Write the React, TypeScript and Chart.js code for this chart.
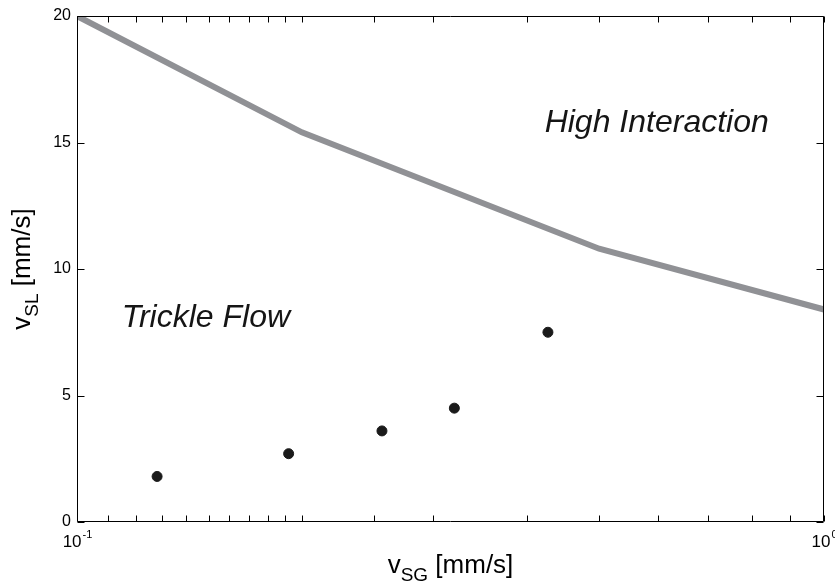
import React, { useEffect, useRef } from "react";
import { Chart, registerables } from "chart.js";

Chart.register(...registerables);

// ---- data ----
const boundaryX = [0.1, 0.2, 0.5, 1];
const boundaryY = [20, 15.4, 10.8, 8.4];
const pointX = [0.128, 0.192, 0.256, 0.32, 0.427];
const pointY = [1.8, 2.7, 3.6, 4.5, 7.5];
const yTickStep = 5;
const xLabelValues = [0.1, 1];
const xLabelBase = ["10", "10"];
const xLabelExp = ["-1", "0"];
const regionLabels = ["High Interaction", "Trickle Flow"];
const regionX = [0.4227, 0.1148];
const regionY = [15.4, 7.7];
const xTitleMain = "v";
const xTitleSub = "SG";
const xTitleRest = " [mm/s]";
const yTitleMain = "v";
const yTitleSub = "SL";
const yTitleRest = " [mm/s]";

const FONT = "'Liberation Sans', Arial, Helvetica, sans-serif";

function drawSubText(
  ctx: CanvasRenderingContext2D,
  cx: number,
  baseline: number,
  main: string,
  sub: string,
  rest: string,
  size: number,
  subSize: number,
  subDrop: number
) {
  ctx.font = `${size}px ${FONT}`;
  const w1 = ctx.measureText(main).width;
  const w3 = ctx.measureText(rest).width;
  ctx.font = `${subSize}px ${FONT}`;
  const w2 = ctx.measureText(sub).width;
  const total = w1 + w2 + w3;
  let x = cx - total / 2;
  ctx.textAlign = "left";
  ctx.textBaseline = "alphabetic";
  ctx.font = `${size}px ${FONT}`;
  ctx.fillText(main, x, baseline);
  x += w1;
  ctx.font = `${subSize}px ${FONT}`;
  ctx.fillText(sub, x, baseline + subDrop);
  x += w2;
  ctx.font = `${size}px ${FONT}`;
  ctx.fillText(rest, x, baseline);
}

const framePlugin = {
  id: "frame",
  afterDraw(chart: any) {
    const { ctx, chartArea: a, scales } = chart;
    const xs = scales.x;
    const ys = scales.y;
    const L = a.left + 0.5;
    const R = a.right - 0.5;
    const T = a.top + 0.5;
    const B = a.bottom - 0.5;
    ctx.save();
    ctx.strokeStyle = "#000";
    ctx.lineWidth = 1;
    ctx.beginPath();
    ctx.rect(L, T, R - L, B - T);
    ctx.stroke();

    // inside ticks - y
    const tl = 7;
    ctx.beginPath();
    for (const t of ys.ticks) {
      const p = Math.round(ys.getPixelForValue(t.value)) + 0.5;
      ctx.moveTo(L, p);
      ctx.lineTo(L + tl, p);
      ctx.moveTo(R, p);
      ctx.lineTo(R - tl, p);
    }
    // inside ticks - x (log minor ticks)
    for (const t of xs.ticks) {
      const p = Math.round(xs.getPixelForValue(t.value)) + 0.5;
      ctx.moveTo(p, B);
      ctx.lineTo(p, B - 6);
      ctx.moveTo(p, T);
      ctx.lineTo(p, T + 6);
    }
    ctx.stroke();

    ctx.fillStyle = "#000";
    // x tick labels with superscript
    xLabelValues.forEach((v, i) => {
      const px = xs.getPixelForValue(v);
      ctx.font = `17px ${FONT}`;
      const wb = ctx.measureText(xLabelBase[i]).width;
      ctx.font = `11px ${FONT}`;
      const we = ctx.measureText(xLabelExp[i]).width;
      const start = px - (wb + we) / 2;
      const base = a.bottom + 25;
      ctx.textAlign = "left";
      ctx.textBaseline = "alphabetic";
      ctx.font = `17px ${FONT}`;
      ctx.fillText(xLabelBase[i], start, base);
      ctx.font = `11px ${FONT}`;
      ctx.fillText(xLabelExp[i], start + wb + 1, base - 9);
    });

    // axis titles
    drawSubText(
      ctx,
      (a.left + a.right) / 2,
      a.bottom + 51,
      xTitleMain,
      xTitleSub,
      xTitleRest,
      26,
      19,
      8
    );
    ctx.save();
    ctx.translate(30, (a.top + a.bottom) / 2);
    ctx.rotate(-Math.PI / 2);
    drawSubText(ctx, 0, 0, yTitleMain, yTitleSub, yTitleRest, 26, 19, 8);
    ctx.restore();

    // region labels
    ctx.fillStyle = "#151515";
    ctx.font = `italic 32px ${FONT}`;
    ctx.textAlign = "left";
    ctx.textBaseline = "alphabetic";
    regionLabels.forEach((s, i) => {
      ctx.fillText(s, xs.getPixelForValue(regionX[i]), ys.getPixelForValue(regionY[i]));
    });
    ctx.restore();
  },
};

export default function App() {
  const ref = useRef<HTMLCanvasElement | null>(null);
  useEffect(() => {
    if (!ref.current) return;
    const chart = new Chart(ref.current, {
      type: "scatter",
      data: {
        datasets: [
          {
            label: "boundary",
            data: boundaryX.map((x, i) => ({ x, y: boundaryY[i] })),
            showLine: true,
            borderColor: "#909195",
            backgroundColor: "#909195",
            borderWidth: 6,
            pointRadius: 0,
            pointHoverRadius: 0,
            clip: 0,
            order: 2,
          } as any,
          {
            label: "data",
            data: pointX.map((x, i) => ({ x, y: pointY[i] })),
            showLine: false,
            backgroundColor: "#1a1a1a",
            borderColor: "#1a1a1a",
            borderWidth: 1,
            pointRadius: 5,
            order: 1,
          } as any,
        ],
      },
      options: {
        animation: false,
        responsive: false,
        devicePixelRatio: 1,
        layout: { padding: { left: 0, right: 11, top: 16, bottom: 0 } },
        plugins: {
          legend: { display: false },
          tooltip: { enabled: false },
        },
        events: [],
        scales: {
          x: {
            type: "logarithmic",
            min: 0.1,
            max: 1,
            position: "bottom",
            ticks: { display: false },
            grid: { display: false, drawTicks: false },
            border: { display: false },
            afterFit: (s: any) => {
              s.height = 62;
            },
          } as any,
          y: {
            type: "linear",
            min: 0,
            max: 20,
            position: "left",
            ticks: {
              stepSize: yTickStep,
              color: "#000",
              padding: 6,
              font: { family: FONT, size: 16 },
            },
            grid: { display: false, drawTicks: false },
            border: { display: false },
            afterFit: (s: any) => {
              s.width = 77;
            },
          } as any,
        },
      },
      plugins: [framePlugin],
    });
    return () => chart.destroy();
  }, []);

  return (
    <div style={{ position: "fixed", left: 0, top: 0, width: 835, height: 584, background: "#fff" }}>
      <canvas ref={ref} width={835} height={584} style={{ width: 835, height: 584, display: "block" }} />
    </div>
  );
}
